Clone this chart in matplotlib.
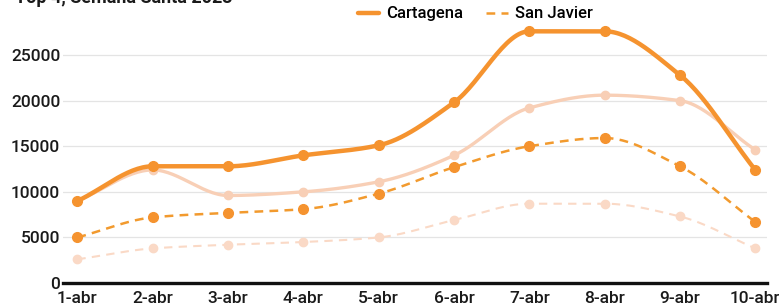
import numpy as np
import matplotlib
matplotlib.use("Agg")
import matplotlib.pyplot as plt

plt.rcParams['font.family'] = ['Roboto', 'DejaVu Sans']

days = ["1-abr", "2-abr", "3-abr", "4-abr", "5-abr", "6-abr", "7-abr", "8-abr", "9-abr", "10-abr"]
cartagena = [9000, 12800, 12800, 14000, 15100, 19800, 27600, 27600, 22800, 12400]
cartagena_prev = [9000, 12400, 9600, 10000, 11100, 14000, 19200, 20600, 20000, 14600]
san_javier = [5000, 7200, 7700, 8100, 9800, 12700, 15000, 15900, 12800, 6700]
san_javier_prev = [2600, 3800, 4200, 4500, 5000, 6900, 8700, 8700, 7300, 3800]
title = "Top 4, Semana Santa 2023"
yticks = [0, 5000, 10000, 15000, 20000, 25000]


def monotone(x, y, n=30):
    x = np.asarray(x, float); y = np.asarray(y, float)
    h = np.diff(x); d = np.diff(y) / h
    m = np.zeros_like(y)
    m[0] = d[0]; m[-1] = d[-1]
    for i in range(1, len(y) - 1):
        if d[i - 1] * d[i] <= 0:
            m[i] = 0
        else:
            w1 = 2 * h[i] + h[i - 1]; w2 = h[i] + 2 * h[i - 1]
            m[i] = (w1 + w2) / (w1 / d[i - 1] + w2 / d[i])
    xs, ys = [], []
    for i in range(len(x) - 1):
        t = np.linspace(0, 1, n, endpoint=(i == len(x) - 2))
        h00 = 2 * t**3 - 3 * t**2 + 1; h10 = t**3 - 2 * t**2 + t
        h01 = -2 * t**3 + 3 * t**2; h11 = t**3 - t**2
        xs.append(x[i] + t * h[i])
        ys.append(h00 * y[i] + h10 * h[i] * m[i] + h01 * y[i + 1] + h11 * h[i] * m[i + 1])
    return np.concatenate(xs), np.concatenate(ys)


fig = plt.figure(figsize=(7.79, 3.08), dpi=100)
ax = fig.add_axes([0.081, 0.081, 0.904, 0.844])
x = np.arange(len(days))

c_main = "#F5932F"
c_sj = "#F29A2E"
c_pale = "#F8CFB6"
c_pale2 = "#FAD9C6"

# pale series
xs, ys = monotone(x, san_javier_prev)
ax.plot(xs, ys, color=c_pale2, lw=1.5, ls=(0, (4, 3)), zorder=2)
ax.plot(x, san_javier_prev, 'o', color=c_pale2, ms=6, zorder=2)
xs, ys = monotone(x, cartagena_prev)
ax.plot(xs, ys, color=c_pale, lw=2.4, zorder=2)
ax.plot(x, cartagena_prev, 'o', color=c_pale, ms=6, zorder=2)

# main series
xs, ys = monotone(x, san_javier)
l2, = ax.plot(xs, ys, color=c_sj, lw=1.8, ls=(0, (3.5, 2.5)), zorder=3)
ax.plot(x, san_javier, 'o', color=c_main, ms=7, zorder=3)
xs, ys = monotone(x, cartagena)
l1, = ax.plot(xs, ys, color=c_main, lw=3.2, zorder=4, solid_capstyle='round')
ax.plot(x, cartagena, 'o', color=c_main, ms=7, zorder=4)

ax.set_xlim(-0.19, 9.16)
ax.set_ylim(0, 28500)
ax.set_yticks(yticks)
ax.set_yticklabels([str(v) for v in yticks])
ax.set_xticks(x)
ax.set_xticklabels(days)
ax.grid(axis='y', color='#E4E4E4', lw=0.9)
ax.set_axisbelow(True)
for s in ['top', 'right', 'left']:
    ax.spines[s].set_visible(False)
ax.spines['bottom'].set_linewidth(2.4)
ax.spines['bottom'].set_color('#111111')
ax.tick_params(axis='y', length=0, labelsize=12.5, pad=2, colors='#1a1a1a')
ax.tick_params(axis='x', length=0, labelsize=12.5, pad=5.5, colors='#1a1a1a')
for lbl in ax.get_yticklabels() + ax.get_xticklabels():
    lbl.set_fontweight('medium')

fig.text(0.019, 1.035, title, fontsize=13, fontweight='bold', va='top', ha='left', color='#1a1a1a')

fig.legend([l1, l2], ["Cartagena", "San Javier"], loc='center', bbox_to_anchor=(0.61, 0.955),
           ncol=2, frameon=False, fontsize=12, handlelength=1.3, columnspacing=1.4,
           handletextpad=0.4, prop={'weight': 'medium', 'size': 12})

fig.savefig("out.png", dpi=100)
